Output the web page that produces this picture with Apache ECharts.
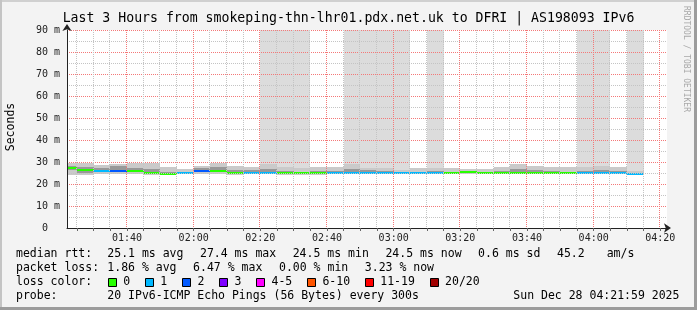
<!DOCTYPE html>
<html><head><meta charset="utf-8">
<script src="https://cdn.jsdelivr.net/npm/echarts@6/dist/echarts.min.js"></script>
<style>html,body{margin:0;padding:0;background:#f3f3f3;}#c{width:697px;height:310px;}</style>
</head><body><div id="c"></div>
<script>
// ---------------- data ----------------
const titleText = 'Last 3 Hours from smokeping-thn-lhr01.pdx.net.uk to DFRI | AS198093 IPv6';
const chartStart = '01:22';
const chartEnd = '04:22';
const binEnds = ['01:25','01:30','01:35','01:40','01:45','01:50','01:55',
  '02:00','02:05','02:10','02:15','02:20','02:25','02:30','02:35','02:40','02:45','02:50','02:55',
  '03:00','03:05','03:10','03:15','03:20','03:25','03:30','03:35','03:40','03:45','03:50','03:55',
  '04:00','04:05','04:10','04:15'];
const medianRtt = [27.4,26.5,25.7,25.7,25.8,25.2,24.7,24.9,25.8,26.0,25.2,25.1,25.1,24.8,24.9,24.8,24.8,24.8,24.8,24.8,24.8,24.8,24.8,24.9,25.3,24.8,24.8,24.8,24.8,24.8,24.8,24.8,24.8,25.2,24.5];
const lossCount = [0,0,1,2,0,0,0,1,2,0,0,1,1,0,0,0,1,1,1,1,1,1,1,0,0,0,0,0,0,0,0,1,1,1,1];
const pingMin = [24.3,24.3,24.6,24.6,24.5,24.3,24.2,24.4,24.6,24.5,24.3,24.5,24.5,24.3,24.3,24.3,24.4,24.4,24.4,24.4,24.4,24.4,24.4,24.4,24.5,24.4,24.4,24.4,24.4,24.4,24.4,24.4,24.4,24.5,24.3];
const pingQ1 = [26.3,25.2,25.3,25.4,25.3,24.9,24.5,24.7,25.3,25.4,24.9,24.9,24.9,24.6,24.7,24.6,24.6,24.7,24.7,24.7,24.7,24.7,24.7,24.7,25.0,24.6,24.7,24.8,24.7,24.7,24.7,24.7,24.7,25.0,24.4];
const pingQ3 = [28.4,27.8,27.5,28.0,27.3,27.0,25.6,25.4,27.2,27.8,26.5,26.3,26.6,25.8,25.6,25.7,25.8,26.8,26.3,25.9,25.2,25.6,25.7,25.5,25.8,25.2,26.0,26.6,26.3,25.8,25.6,25.9,26.2,25.9,25.0];
const pingMax = [29.7,29.4,28.6,29.2,29.7,29.7,27.7,26.7,28.3,29.4,28.3,27.9,28.9,27.9,27.4,27.6,27.9,28.9,27.4,27.4,26.4,27.1,27.1,27.4,26.8,26.8,27.9,28.9,28.3,27.9,27.6,27.9,28.2,27.6,26.0];
const unknownSpans = [['02:20','02:35'],['02:45','03:05'],['03:10','03:15'],['03:55','04:05'],['04:10','04:15']];
const unknownFloor = 25;
const xTickLabels = ['01:40','02:00','02:20','02:40','03:00','03:20','03:40','04:00','04:20'];
const yMin = 0, yMax = 90, yStep = 10;
const lossLabels = ['0','1','2','3','4-5','6-10','11-19','20/20'];
const lossColors = ['#26ff00','#00b8ff','#0059ff','#7e00ff','#ff00ff','#ff5500','#ff0000','#a10000'];
const rttStats = ['25.1 ms avg','27.4 ms max','24.5 ms min','24.5 ms now','0.6 ms sd','45.2','am/s'];
const lossStats = ['1.86 % avg','6.47 % max','0.00 % min','3.23 % now'];
const probeText = '20 IPv6-ICMP Echo Pings (56 Bytes) every 300s';
const dateText = 'Sun Dec 28 04:21:59 2025';

// ---------------- helpers ----------------
const toMin = s => { const [h,m] = s.split(':').map(Number); return h*60+m; };
const fmt = v => String(Math.floor(v/60)).padStart(2,'0') + ':' + String(v%60).padStart(2,'0');
const xMin = toMin(chartStart), xMax = toMin(chartEnd);
const majorTicks = xTickLabels.map(toMin);
const allTicks = [];
for (let t = Math.ceil(xMin/5)*5; t < xMax; t += 5) if (t > xMin) allTicks.push(t);
const vGrid = allTicks.map(t => [t, majorTicks.indexOf(t) >= 0 ? 1 : 0]);

const bins = binEnds.map((e,i) => [i===0 ? xMin : toMin(binEnds[i-1]), toMin(e)]);
const smokeOuter = bins.map((b,i) => [b[0], b[1], pingMin[i], pingMax[i]]);
const smokeInner = bins.map((b,i) => [b[0], b[1], pingQ1[i], pingQ3[i]]);
const medianData = bins.map((b,i) => [b[0], b[1], medianRtt[i], lossCount[i]]);
const bandData = unknownSpans.map(s => [toMin(s[0]), toMin(s[1]), unknownFloor, yMax]);

function lossColor(n){
  if (n <= 3) return lossColors[n];
  if (n <= 5) return lossColors[4];
  if (n <= 10) return lossColors[5];
  if (n <= 19) return lossColors[6];
  return lossColors[7];
}
function rectItem(fill){
  return function(params, api){
    const p0 = api.coord([api.value(0), api.value(3)]);
    const p1 = api.coord([api.value(1), api.value(2)]);
    const x0 = Math.round(p0[0]), x1 = Math.round(p1[0]);
    const y0 = Math.round(p0[1]), y1 = Math.round(p1[1]);
    return {type:'rect', shape:{x:x0, y:y0, width:x1-x0, height:y1-y0}, style:{fill:fill}};
  };
}
function medianItem(params, api){
  const p0 = api.coord([api.value(0), api.value(2)]);
  const p1 = api.coord([api.value(1), api.value(2)]);
  const x0 = Math.round(p0[0]), x1 = Math.round(p1[0]);
  const y = Math.round(p0[1]);
  return {type:'rect', shape:{x:x0, y:y-1, width:x1-x0, height:2}, style:{fill: lossColor(api.value(3))}};
}
const MONO = '"DejaVu Sans Mono", monospace';
const CW = 6.94;
const gridMinor = 'rgb(196,196,196)';
const gridMajor = 'rgb(244,120,120)';
function vGridItem(params, api){
  const top = api.coord([api.value(0), yMax]);
  const bot = api.coord([api.value(0), yMin]);
  const x = Math.round(top[0] - 1) + 0.5;
  return {type:'line', shape:{x1:x, y1:Math.round(top[1]), x2:x, y2:Math.round(bot[1])},
    style:{stroke: api.value(1) ? gridMajor : gridMinor, lineWidth:1, lineDash:[1,1]}};
}

// ---------------- graphics (text / frame) ----------------
const g = [];
function txt(t, x, y){
  g.push({type:'text', x:x, y:y, z:100, silent:true,
    style:{text:t, font:'11.5px ' + MONO, fill:'#000', align:'left', verticalAlign:'middle'}});
}
g.push({type:'rect', z:100, shape:{x:0,y:0,width:697,height:2}, style:{fill:'#d0d0d0'}});
g.push({type:'rect', z:100, shape:{x:0,y:0,width:2,height:310}, style:{fill:'#c4c4c4'}});
g.push({type:'rect', z:100, shape:{x:0,y:307,width:697,height:3}, style:{fill:'#9c9c9c'}});
g.push({type:'rect', z:100, shape:{x:694,y:0,width:3,height:310}, style:{fill:'#9c9c9c'}});
g.push({type:'text', z:100, x:348.5, y:18.5, style:{text:titleText, font:'13.2px ' + MONO, fill:'#000', align:'center', verticalAlign:'middle'}});
g.push({type:'text', z:100, x:11.5, y:127, rotation:Math.PI/2, style:{text:'Seconds', font:'11.5px ' + MONO, fill:'#000', align:'center', verticalAlign:'middle'}});
g.push({type:'text', z:100, x:686.5, y:59, rotation:-Math.PI/2, style:{text:'RRDTOOL / TOBI OETIKER', font:'8px ' + MONO, fill:'#a8a8a8', align:'center', verticalAlign:'middle'}});

const row = [254.3, 268.3, 282.3, 296];
txt('median rtt:', 16, row[0]);
const rttX = [107.3, 200, 292.7, 385.4, 478.1, 557, 606.7];
rttStats.forEach((s,i) => txt(s, rttX[i], row[0]));
txt('packet loss:', 16, row[1]);
const lossX = [107.3, 193.1, 279, 364.8];
lossStats.forEach((s,i) => txt(s, lossX[i], row[1]));
txt('loss color:', 16, row[2]);
let lx = 108.3;
lossLabels.forEach((l,i) => {
  g.push({type:'rect', z:100, shape:{x:Math.round(lx)+0.5, y:278.5, width:8, height:8}, style:{fill:lossColors[i], stroke:'#000', lineWidth:1}});
  txt(l, lx + 15, row[2]);
  lx += 15 + l.length*CW + 15.1;
});
txt('probe:', 16, row[3]);
txt(probeText, 107.3, row[3]);
txt(dateText, 513.3, row[3]);

// ---------------- chart ----------------
const chart = echarts.init(document.getElementById('c'), null, {renderer:'canvas'});
chart.setOption({
  backgroundColor:'#f3f3f3',
  animation:false,
  grid:{left:67, right:30, top:30, bottom:82, show:true, backgroundColor:'#ffffff', borderWidth:0},
  xAxis:{
    type:'value', min:xMin, max:xMax, z:6,
    axisLine:{show:true, onZero:false, symbol:['none','arrow'], symbolSize:[7,7], symbolOffset:[0,4], lineStyle:{color:'#222', width:1}},
    axisTick:{show:true, customValues:allTicks, length:3, lineStyle:{color:'#666'}},
    axisLabel:{customValues:majorTicks, formatter:v => fmt(v), fontFamily:MONO, fontSize:10, color:'#222', margin:5},
    splitLine:{show:false}
  },
  yAxis:{
    type:'value', min:yMin, max:yMax, interval:yStep, z:6,
    axisLine:{show:true, symbol:['none','arrow'], symbolSize:[7,7], symbolOffset:[0,6], lineStyle:{color:'#222', width:1}},
    axisTick:{show:false},
    axisLabel:{formatter:v => v===0 ? '0  ' : v + ' m', fontFamily:MONO, fontSize:10, color:'#222', margin:7},
    splitLine:{show:true, lineStyle:{color:gridMajor, type:[1,1], width:1}},
    minorTick:{show:false, splitNumber:2},
    minorSplitLine:{show:true, lineStyle:{color:gridMinor, type:[1,1], width:1}}
  },
  series:[
    {type:'custom', name:'unknown', z:1, silent:true, renderItem:rectItem('#dcdcdc'), encode:{x:[0,1], y:[2,3]}, data:bandData},
    {type:'custom', name:'smoke', z:2, silent:true, renderItem:rectItem('#cacaca'), encode:{x:[0,1], y:[2,3]}, data:smokeOuter},
    {type:'custom', name:'smoke core', z:3, silent:true, renderItem:rectItem('#989898'), encode:{x:[0,1], y:[2,3]}, data:smokeInner},
    {type:'custom', name:'median', z:4, silent:true, renderItem:medianItem, encode:{x:[0,1], y:[2,2]}, data:medianData},
    {type:'custom', name:'vgrid', z:8, silent:true, renderItem:vGridItem, encode:{x:0}, data:vGrid}
  ],
  graphic:{elements:g}
});
</script></body></html>
